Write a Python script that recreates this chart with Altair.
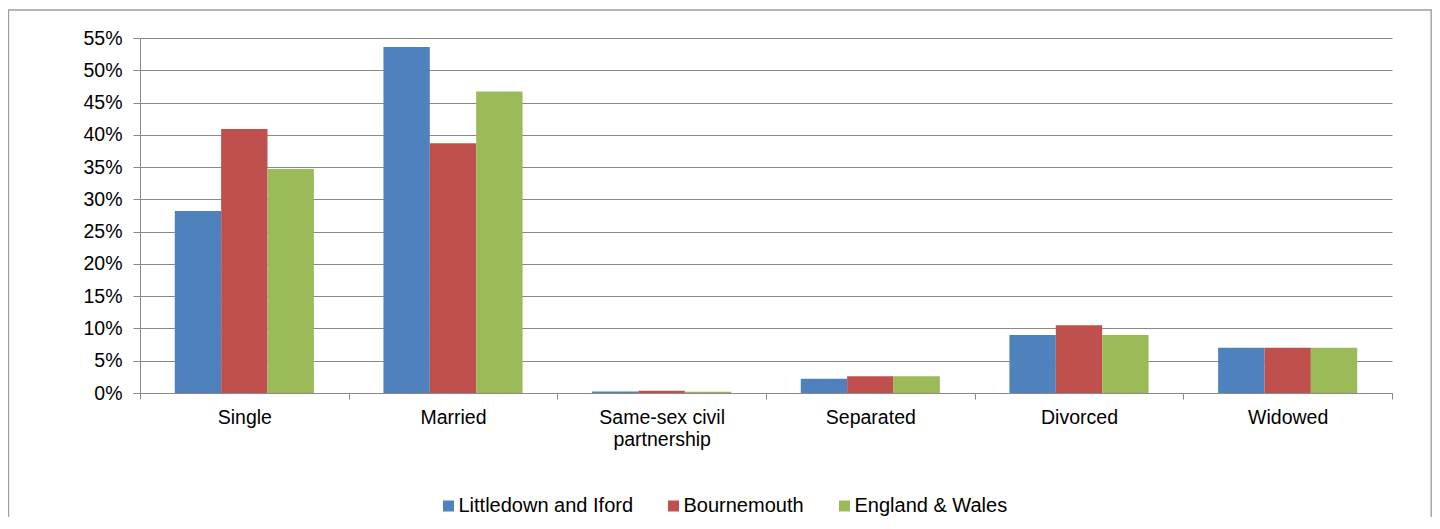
import altair as alt
import pandas as pd

categories = ["Single", "Married", "Same-sex civil partnership", "Separated", "Divorced", "Widowed"]
series = ["Littledown and Iford", "Bournemouth", "England & Wales"]
littledown = [28.2, 53.6, 0.25, 2.2, 9.0, 7.0]
bournemouth = [40.9, 38.7, 0.35, 2.6, 10.5, 7.0]
england_wales = [34.7, 46.7, 0.2, 2.6, 9.0, 7.0]
colors = ["#4F81BD", "#C0504D", "#9BBB59"]
y_ticks = [0, 0.05, 0.10, 0.15, 0.20, 0.25, 0.30, 0.35, 0.40, 0.45, 0.50, 0.55]

rows = []
for s, vals in zip(series, [littledown, bournemouth, england_wales]):
    for c, v in zip(categories, vals):
        rows.append({"category": c, "series": s, "value": v / 100.0})
df = pd.DataFrame(rows)

FONT = "Liberation Sans"
GRID = "#898989"

bars = alt.Chart(df).mark_bar().encode(
    x=alt.X("category:N", sort=categories,
            scale=alt.Scale(paddingInner=0, paddingOuter=0),
            axis=alt.Axis(title=None, labelAngle=0, tickBand="extent", tickSize=6,
                          tickColor=GRID, domainColor=GRID, labelFontSize=19.5,
                          labelFont=FONT, labelColor="#000000", labelPadding=9,
                          labelLineHeight=22, labelLimit=400, grid=False,
                          labelExpr="datum.label == 'Same-sex civil partnership' ? ['Same-sex civil', 'partnership'] : datum.label")),
    xOffset=alt.XOffset("series:N", sort=series,
                        scale=alt.Scale(paddingInner=0, paddingOuter=0.75)),
    y=alt.Y("value:Q", scale=alt.Scale(domain=[0, 0.55], nice=False),
            axis=alt.Axis(title=None, values=y_ticks, format=".0%", tickSize=7,
                          tickColor=GRID, domainColor=GRID, gridColor=GRID,
                          labelFontSize=19.5, labelFont=FONT, labelColor="#000000",
                          labelPadding=11)),
    color=alt.Color("series:N", sort=series,
                    scale=alt.Scale(domain=series, range=colors),
                    legend=alt.Legend(orient="none", legendX=298.5, legendY=458,
                                      direction="horizontal", title=None,
                                      symbolType="square", symbolSize=121,
                                      symbolStrokeWidth=0, columnPadding=30,
                                      labelOffset=0, padding=0, labelLimit=400,
                                      labelFontSize=20, labelFont=FONT,
                                      labelColor="#000000")),
)

frame = alt.Chart(pd.DataFrame({"a": [0]})).mark_rect(
    fillOpacity=0, stroke="#a0a0a0", strokeWidth=1.4
).encode(
    x=alt.value(-131.5), x2=alt.value(1291.2), y=alt.value(-28), y2=alt.value(600)
)

chart = alt.layer(frame, bars).properties(
    width=1252, height=355,
    autosize=alt.AutoSizeParams(type="none"),
    padding={"left": 132, "top": 30, "right": 40, "bottom": 124},
    background="white",
).configure_view(stroke=None)

chart.save("out.html", embed_options={"renderer": "svg", "actions": False})
